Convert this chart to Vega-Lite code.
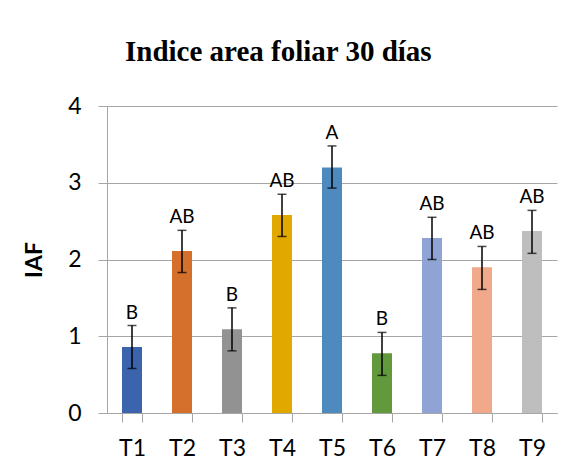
{
  "$schema": "https://vega.github.io/schema/vega-lite/v6.json",
  "width": 450,
  "height": 307,
  "autosize": {"type": "none"},
  "padding": {"left": 107, "top": 106, "right": 18, "bottom": 63},
  "background": "white",
  "title": {
    "text": "Indice area foliar 30 días",
    "font": "Liberation Serif",
    "fontSize": 29,
    "fontWeight": "bold",
    "color": "black",
    "anchor": "start",
    "frame": "group",
    "dx": 18,
    "baseline": "alphabetic",
    "offset": 5
  },
  "data": {
    "values": [
      {"trat": "T1", "iaf": 0.86, "lo": 0.58, "hi": 1.14, "letra": "B"},
      {"trat": "T2", "iaf": 2.11, "lo": 1.83, "hi": 2.38, "letra": "AB"},
      {"trat": "T3", "iaf": 1.09, "lo": 0.81, "hi": 1.37, "letra": "B"},
      {"trat": "T4", "iaf": 2.58, "lo": 2.30, "hi": 2.85, "letra": "AB"},
      {"trat": "T5", "iaf": 3.20, "lo": 2.93, "hi": 3.48, "letra": "A"},
      {"trat": "T6", "iaf": 0.78, "lo": 0.49, "hi": 1.05, "letra": "B"},
      {"trat": "T7", "iaf": 2.28, "lo": 2.00, "hi": 2.55, "letra": "AB"},
      {"trat": "T8", "iaf": 1.90, "lo": 1.61, "hi": 2.17, "letra": "AB"},
      {"trat": "T9", "iaf": 2.37, "lo": 2.08, "hi": 2.64, "letra": "AB"}
    ]
  },
  "encoding": {
    "x": {
      "field": "trat",
      "type": "nominal",
      "sort": null,
      "scale": {"paddingInner": 0.6, "paddingOuter": 0.3},
      "axis": {
        "title": null,
        "labelAngle": 0,
        "tickBand": "extent",
        "tickSize": 9,
        "tickColor": "#a6a6a6",
        "domainColor": "#a6a6a6",
        "labelFont": "Lato",
        "labelFontSize": 23,
        "labelColor": "black",
        "labelPadding": 15,
        "grid": false
      }
    }
  },
  "layer": [
    {
      "mark": {"type": "bar"},
      "encoding": {
        "y": {
          "field": "iaf",
          "type": "quantitative",
          "title": "IAF",
          "scale": {"domain": [0, 4]},
          "axis": {
            "values": [0, 1, 2, 3, 4],
            "format": "d",
            "grid": true,
            "gridColor": "#a6a6a6",
            "domainColor": "#a6a6a6",
            "tickColor": "#a6a6a6",
            "tickSize": 9,
            "labelFont": "Lato",
            "labelFontSize": 23,
            "labelColor": "black",
            "labelPadding": 17,
            "titleFont": "Lato",
            "titleFontSize": 23,
            "titleFontWeight": "bold",
            "titleColor": "black",
            "titlePadding": 21
          }
        },
        "color": {
          "field": "trat",
          "type": "nominal",
          "legend": null,
          "scale": {
            "domain": ["T1", "T2", "T3", "T4", "T5", "T6", "T7", "T8", "T9"],
            "range": ["#3B64AD", "#D46F2C", "#929292", "#E1A800", "#4E8ABE", "#63993D", "#8FA4D4", "#F0A98A", "#BEBEBE"]
          }
        }
      }
    },
    {
      "mark": {
        "type": "errorbar",
        "color": "black",
        "thickness": 1.5,
        "ticks": {"size": 9, "thickness": 1.5, "color": "black"}
      },
      "encoding": {
        "y": {"field": "lo", "type": "quantitative", "title": "IAF"},
        "y2": {"field": "hi"}
      }
    },
    {
      "mark": {
        "type": "text",
        "font": "Lato",
        "fontSize": 19,
        "baseline": "alphabetic",
        "dy": -7,
        "color": "black"
      },
      "encoding": {
        "y": {"field": "hi", "type": "quantitative", "title": "IAF"},
        "text": {"field": "letra"}
      }
    }
  ],
  "config": {"view": {"stroke": null}}
}
